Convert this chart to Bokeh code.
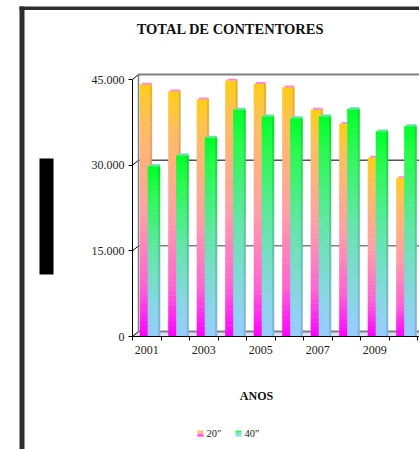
from bokeh.plotting import figure
from bokeh.models import Range1d, FixedTicker, Label, BoxAnnotation, ColumnDataSource
from bokeh.embed import file_html
from bokeh.resources import INLINE

# ---------------- data ----------------
years = [2001, 2002, 2003, 2004, 2005, 2006, 2007, 2008, 2009, 2010]
teu20 = [44100, 42900, 41500, 44800, 44200, 43600, 39700, 37200, 31300, 27700]
teu40 = [29800, 31700, 34800, 39700, 38500, 38200, 38500, 39800, 35900, 36800]
x_tick_years = [2001, 2003, 2005, 2007, 2009]
y_ticks = [0, 15000, 30000, 45000]
y_tick_labels = ["0", "15.000", "30.000", "45.000"]
series_names = ['20"', '40"']
title_text = "TOTAL DE CONTENTORES"
x_title = "ANOS"

# ---------------- layout geometry (pixels) ----------------
W, H = 419, 449
AX_X, AX_Y = 132, 336          # pixel position of the axes corner
PX_X = 1 / 28.5                 # data units per pixel horizontally
PX_Y = 45000 / 257.0            # data units per pixel vertically
X0 = years[0] - 0.5             # x value at the y-axis


def dx(px):
    return X0 + (px - AX_X) * PX_X


def dy(py):
    return (AX_Y - py) * PX_Y


X1 = dx(W)
DEPTH_X = 6 * PX_X
DEPTH_Y = 5 * PX_Y

p = figure(width=W, height=H, output_backend="svg", toolbar_location=None, title=None,
           x_range=Range1d(dx(0), dx(W)), y_range=Range1d(dy(H), dy(0)),
           min_border=0, min_border_left=0, min_border_right=0,
           min_border_top=0, min_border_bottom=0)
p.outline_line_color = None
p.background_fill_color = "white"
p.border_fill_color = "white"
p.xgrid.visible = False
p.ygrid.visible = False

# ---------------- 3D floor and back wall ----------------
p.patch([X0, X0 + DEPTH_X, X1, X1], [0, DEPTH_Y, DEPTH_Y, 0],
        fill_color="#dcdff6", line_color=None)

grid_colors = ["#808080", "#808080", "#000000", "#808080"]
grid_widths = [2, 1.5, 1, 2]
p.segment(x0=[X0 + DEPTH_X] * len(y_ticks), y0=[t + DEPTH_Y for t in y_ticks],
          x1=[X1] * len(y_ticks), y1=[t + DEPTH_Y for t in y_ticks],
          line_color=grid_colors, line_width=grid_widths)
p.segment(x0=[X0] * len(y_ticks), y0=y_ticks,
          x1=[X0 + DEPTH_X] * len(y_ticks), y1=[t + DEPTH_Y for t in y_ticks],
          line_color="#000000", line_width=1)
p.segment(x0=[X0 + DEPTH_X], y0=[DEPTH_Y], x1=[X0 + DEPTH_X], y1=[y_ticks[-1] + DEPTH_Y],
          line_color="#808080", line_width=1.5)

# ---------------- gradient bars ----------------
orange_stops = [(0.0, (255, 0, 255)), (0.2, (255, 100, 210)), (0.5, (255, 160, 165)),
                (0.85, (255, 190, 95)), (1.0, (255, 205, 20))]
green_stops = [(0.0, (150, 205, 255)), (0.2, (135, 215, 225)), (0.5, (100, 230, 170)),
               (0.85, (40, 250, 80)), (1.0, (0, 255, 40))]


def grad_color(stops, f, shade=1.0):
    for (p0, c0), (p1, c1) in zip(stops, stops[1:]):
        if p0 <= f <= p1:
            t = (f - p0) / (p1 - p0)
            rgb = [min(255, int(round((a + (b - a) * t) * shade))) for a, b in zip(c0, c1)]
            return "#%02x%02x%02x" % tuple(rgb)
    return "#%02x%02x%02x" % stops[-1][1]


N = 48


def bar_source(vals, lo, hi, stops, shade=1.0):
    L, R, B, T, C = [], [], [], [], []
    for x, v in zip(years, vals):
        for k in range(N):
            f = (k + 0.5) / N
            L.append(x + lo)
            R.append(x + hi)
            B.append(v * k / N)
            T.append(v * (k + 1) / N)
            C.append(grad_color(stops, f, shade))
    return ColumnDataSource(dict(left=L, right=R, bottom=B, top=T, color=C))


def add_bar(vals, face_lo, face_hi, side_hi, stops, cap_color):
    p.quad(left="left", right="right", bottom="bottom", top="top",
           source=bar_source(vals, face_hi, side_hi, stops, 0.88),
           fill_color="color", line_color="color", line_width=0.6)
    p.quad(left="left", right="right", bottom="bottom", top="top",
           source=bar_source(vals, face_lo, face_hi, stops),
           fill_color="color", line_color="color", line_width=0.6)
    p.quad(left=[x + face_lo + 2 * PX_X for x in years], right=[x + side_hi for x in years],
           bottom=vals, top=[v + 2 * PX_Y for v in vals], fill_color=cap_color, line_color=None)


add_bar(teu20, -6.75 * PX_X, 3 * PX_X, 5 * PX_X, orange_stops, "#ff8ccc")
add_bar(teu40, 1.25 * PX_X, 11 * PX_X, 13.25 * PX_X, green_stops, "#66e0a8")

# ---------------- axes (fixed inside the frame) ----------------
ya = p.yaxis[0]
ya.fixed_location = X0
ya.ticker = FixedTicker(ticks=y_ticks, minor_ticks=[])
ya.major_label_overrides = {t: s for t, s in zip(y_ticks, y_tick_labels)}
ya.bounds = (0, y_ticks[-1])
ya.axis_line_color = "black"
ya.major_tick_line_color = "black"
ya.major_tick_out = 4
ya.major_tick_in = 0
ya.minor_tick_line_color = None
ya.major_label_standoff = 4
ya.major_label_text_font = "Liberation Serif"
ya.major_label_text_font_size = "12px"
ya.major_label_text_color = "#222222"

xa = p.xaxis[0]
xa.fixed_location = 0
xa.ticker = FixedTicker(ticks=x_tick_years, minor_ticks=[y - 0.5 for y in years] + [years[-1] + 0.5])
xa.major_label_overrides = {t: str(t) for t in x_tick_years}
xa.bounds = (X0, X1)
xa.axis_line_color = "black"
xa.major_tick_out = 0
xa.major_tick_in = 0
xa.minor_tick_line_color = "black"
xa.minor_tick_out = 4
xa.minor_tick_in = 0
xa.major_label_standoff = 5
xa.major_label_text_font = "Liberation Serif"
xa.major_label_text_font_size = "12px"
xa.major_label_text_color = "#222222"


# ---------------- decorations (placed in pixel terms via dx/dy) ----------------
def box(x0, x1, y0, y1, color):
    p.add_layout(BoxAnnotation(left=dx(x0), right=dx(x1), top=dy(y0), bottom=dy(y1),
                               fill_color=color, fill_alpha=1, line_color=None))


box(19, 24, 6, H, "#2e2e2e")     # left page border
box(19, W, 6, 9.5, "#2e2e2e")    # top page border
# dotted texture of the page border
p.segment(x0=[dx(21.5), dx(19)], y0=[dy(6), dy(7.75)], x1=[dx(21.5), dx(W)], y1=[dy(H), dy(7.75)],
          line_color="#8a8a8a", line_width=1.5, line_dash="1 3")
box(39, 53, 158, 274, "black")   # dark block at the left


def text(px, py, s, size, bold=False, align="center", color="#111111"):
    p.add_layout(Label(x=dx(px), y=dy(py), text=s, text_align=align, text_baseline="middle",
                       text_font="Liberation Serif", text_font_size=size,
                       text_font_style="bold" if bold else "normal", text_color=color))


text(230, 28, title_text, "14.5px", bold=True)
text(256, 395, x_title, "12px", bold=True)

# legend
legend_swatch_x = [197, 235]
legend_stops = [orange_stops, green_stops]
for sx, stops, name in zip(legend_swatch_x, legend_stops, series_names):
    for i, f in enumerate([0.85, 0.5, 0.1]):
        box(sx, sx + 6, 430 + 2 * i, 432 + 2 * i, grad_color(stops, f))
    text(sx + 9, 433, name, "10.5px", align="left", color="#222222")

open("out.html", "w").write(file_html(p, INLINE))
